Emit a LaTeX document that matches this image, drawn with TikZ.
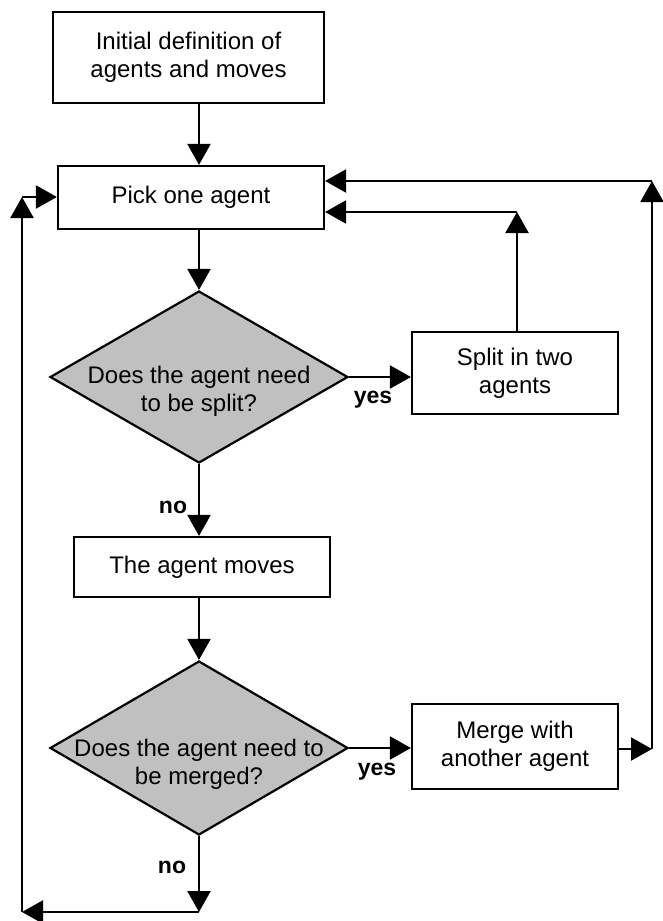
\documentclass[tikz,border=0pt]{standalone}
\usepackage{fontspec}
\setmainfont{Liberation Sans}
\usetikzlibrary{arrows.meta,shapes.geometric}
\definecolor{dfill}{RGB}{192,192,192}
\begin{document}
\begin{tikzpicture}[x=1pt,y=-1pt,
  every node/.style={font=\fontsize{24pt}{28pt}\selectfont},
  box/.style={draw=black,line width=2.2pt,fill=white,inner sep=0pt,align=center},
  dec/.style={draw=black,line width=2.2pt,fill=dfill,shape=diamond,inner sep=0pt,aspect=1.73},
  dtext/.style={align=center,inner sep=0pt},
  lbl/.style={font=\fontsize{23pt}{26pt}\selectfont\bfseries,inner sep=0pt},
  arr/.style={line width=2.2pt,-{Triangle[width=23pt,length=21pt]}}]
\useasboundingbox (0,0) rectangle (662,921);
\node[box,minimum width=271pt,minimum height=91pt] (init) at (188.5,57.5) {Initial definition of\\agents and moves};
\node[box,minimum width=266pt,minimum height=63pt] (pick) at (191,197.5) {Pick one agent};
\node[dec,minimum width=298pt,minimum height=172pt] (d1) at (199,377) {};
\node[dtext] (d1t) at (199,391) {Does the agent need\\to be split?};
\node[box,minimum width=206pt,minimum height=82pt] (split) at (515,373) {Split in two\\agents};
\node[box,minimum width=256pt,minimum height=60pt] (move) at (202,567) {The agent moves};
\node[dec,minimum width=298pt,minimum height=174pt] (d2) at (199,748) {};
\node[dtext] (d2t) at (199,764) {Does the agent need to\\be merged?};
\node[box,minimum width=206pt,minimum height=85pt] (merge) at (515,746.5) {Merge with\\another agent};
\node[lbl] (y1) at (373,400) {yes};
\node[lbl] (y2) at (377,772) {yes};
\node[lbl] (n1) at (173,507) {no};
\node[lbl] (n2) at (172,867) {no};
\coordinate (mr) at (652,749);
\coordinate (rt) at (652,181);
\coordinate (st) at (517,212);
\coordinate (sb) at (517,332);
\coordinate (bm) at (199,912);
\coordinate (bl) at (22,912);
\coordinate (tl) at (22,197);
\draw[arr] (init.south -| d1.north) -- (pick.north -| d1.north);
\draw[arr] (pick.south -| d1.north) -- (d1.north);
\draw[arr] (d1.east) -- (d1.east -| split.west);
\draw[arr] (d1.south) -- (d1.south |- move.north);
\draw[arr] (move.south -| d2.north) -- (d2.north);
\draw[arr] (d2.east) -- (d2.east -| merge.west);
\draw[arr] (merge.east |- mr) -- (mr);
\draw[arr] (mr) -- (rt);
\draw[arr] (rt) -- (rt -| pick.east);
\draw[arr] (sb) -- (st);
\draw[arr] (st) -- (st -| pick.east);
\draw[arr] (d2.south) -- (bm);
\draw[arr] (bm) -- (bl);
\draw[arr] (bl) -- (tl);
\draw[arr] (tl) -- (tl -| pick.west);
\end{tikzpicture}
\end{document}
